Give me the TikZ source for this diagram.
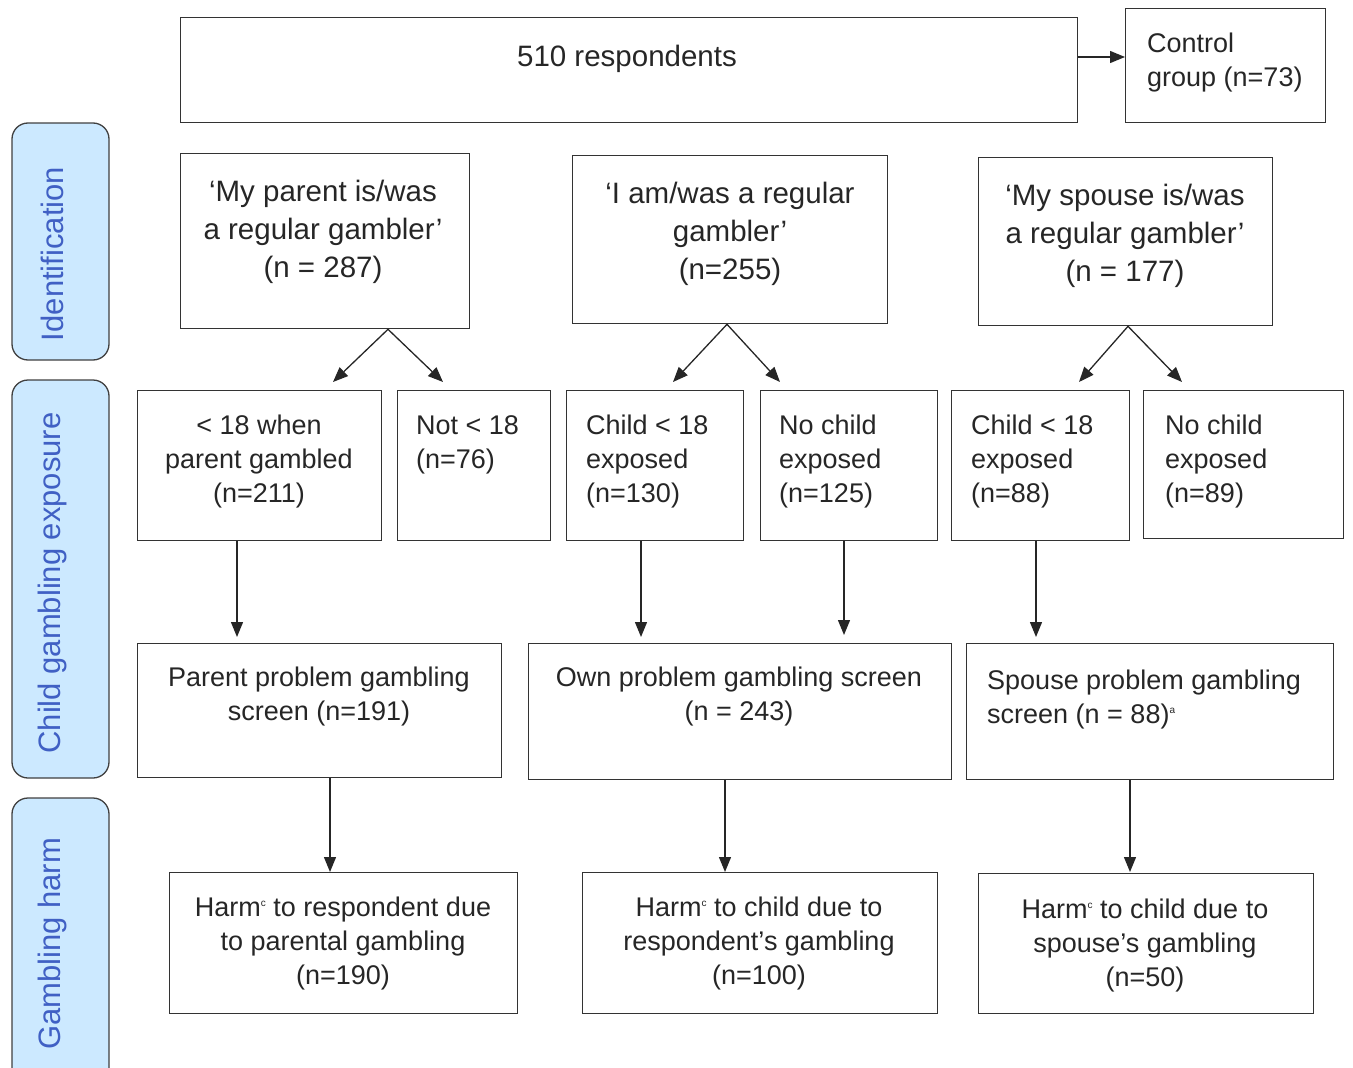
\documentclass[tikz,border=0pt]{standalone}
\usepackage{fontspec}
\setmainfont{Liberation Sans}
\usetikzlibrary{arrows.meta}
\definecolor{sidefill}{RGB}{204,233,255}
\definecolor{sideblue}{RGB}{64,96,196}
\newcommand{\supx}[1]{\raisebox{0.7ex}{\fontsize{10}{10}\selectfont #1}}
\tikzset{
 box/.style={draw=black!80, line width=1.3pt, anchor=north west, inner sep=0pt},
 txt/.style={font=\fontsize{27}{34}\selectfont, text=black!85, inner sep=0pt, align=center, anchor=north, yshift=-2pt},
 btxt/.style={txt, font=\fontsize{29.5}{38}\selectfont},
 ltxt/.style={txt, align=left, anchor=north west},
 side/.style={draw=black!75, fill=sidefill, rounded corners=16pt, line width=1.3pt},
 stxt/.style={font=\fontsize{31}{31}\selectfont, text=sideblue, rotate=90, inner sep=0pt},
 arr/.style={-{Stealth[length=15pt,width=12pt,inset=0pt]}, line width=1.3pt, draw=black!85}
}
\begin{document}
\begin{tikzpicture}[x=1pt,y=-1pt]
\useasboundingbox (0,0) rectangle (1353,1068);
% side labels
\begin{scope}
\clip (0,0) rectangle (1353,1068);
\draw[side] (12,123) rectangle (109,360);
\draw[side] (12,380) rectangle (109,778);
\draw[side] (12,798) rectangle (109,1100);
\end{scope}
\node[stxt] (sid) at (52,254) {Identification};
\node[stxt] (sexp) at (52,583) {Child gambling exposure};
\node[stxt] (sharm) at (52,944) {Gambling harm};
% top
\node[box, minimum width=897pt, minimum height=105pt] (top) at (180,17) {};
\node[btxt] (toptx) at (627,43) {510 respondents};
\node[box, minimum width=200pt, minimum height=114pt] (ctl) at (1125,8) {};
\node[ltxt] (ctltx) at (1147,31) {Control\\group (n=73)};
\coordinate (cA) at (1125,57);
\draw[arr] (top.east |- cA) -- (cA);
% row 2
\node[box, minimum width=289pt, minimum height=175pt] (par) at (180,153) {};
\node[btxt] (partx) at (323,178) {‘My parent is/was\\a regular gambler’\\(n = 287)};
\node[box, minimum width=315pt, minimum height=168pt] (own) at (572,155) {};
\node[btxt] (owntx) at (730,180) {‘I am/was a regular\\gambler’\\(n=255)};
\node[box, minimum width=294pt, minimum height=168pt] (sp) at (978,157) {};
\node[btxt] (sptx) at (1125,182) {‘My spouse is/was\\a regular gambler’\\(n = 177)};
% row 3
\node[box, minimum width=244pt, minimum height=150pt] (c1) at (137,390) {};
\node[txt] (c1tx) at (259,413) {< 18 when\\parent gambled\\(n=211)};
\node[box, minimum width=153pt, minimum height=150pt] (c2) at (397,390) {};
\node[ltxt] (c2tx) at (416,413) {Not < 18\\(n=76)};
\node[box, minimum width=177pt, minimum height=150pt] (c3) at (566,390) {};
\node[ltxt] (c3tx) at (586,413) {Child < 18\\exposed\\(n=130)};
\node[box, minimum width=177pt, minimum height=150pt] (c4) at (760,390) {};
\node[ltxt] (c4tx) at (779,413) {No child\\exposed\\(n=125)};
\node[box, minimum width=178pt, minimum height=150pt] (c5) at (951,390) {};
\node[ltxt] (c5tx) at (971,413) {Child < 18\\exposed\\(n=88)};
\node[box, minimum width=200pt, minimum height=148pt] (c6) at (1143,390) {};
\node[ltxt] (c6tx) at (1165,413) {No child\\exposed\\(n=89)};
% diverging arrows
\coordinate (d1) at (333,382); \coordinate (d2) at (443,382);
\coordinate (d3) at (673,382); \coordinate (d4) at (780,382);
\coordinate (d5) at (1079,382); \coordinate (d6) at (1182,382);
\draw[arr] (par.south -| 388,0) -- (d1);
\draw[arr] (par.south -| 388,0) -- (d2);
\draw[arr] (own.south -| 727,0) -- (d3);
\draw[arr] (own.south -| 727,0) -- (d4);
\draw[arr] (sp.south -| 1128,0) -- (d5);
\draw[arr] (sp.south -| 1128,0) -- (d6);
% row 4
\node[box, minimum width=364pt, minimum height=134pt] (s1) at (137,643) {};
\node[txt] (s1tx) at (319,665) {Parent problem gambling\\screen (n=191)};
\node[box, minimum width=423pt, minimum height=136pt] (s2) at (528,643) {};
\node[txt] (s2tx) at (739,665) {Own problem gambling screen\\(n = 243)};
\node[box, minimum width=367pt, minimum height=136pt] (s3) at (966,643) {};
\node[ltxt] (s3tx) at (987,668) {Spouse problem gambling\\screen (n = 88)\supx{a}};
\coordinate (e1) at (237,637); \coordinate (e2) at (641,637);
\coordinate (e3) at (844,635); \coordinate (e4) at (1036,637);
\draw[arr] (c1.south -| e1) -- (e1);
\draw[arr] (c3.south -| e2) -- (e2);
\draw[arr] (c4.south -| e3) -- (e3);
\draw[arr] (c5.south -| e4) -- (e4);
% row 5
\node[box, minimum width=348pt, minimum height=141pt] (h1) at (169,872) {};
\node[txt] (h1tx) at (343,895) {Harm\supx{c} to respondent due\\to parental gambling\\(n=190)};
\node[box, minimum width=355pt, minimum height=141pt] (h2) at (582,872) {};
\node[txt] (h2tx) at (759,895) {Harm\supx{c} to child due to\\respondent’s gambling\\(n=100)};
\node[box, minimum width=335pt, minimum height=140pt] (h3) at (978,873) {};
\node[txt] (h3tx) at (1145,897) {Harm\supx{c} to child due to\\spouse’s gambling\\(n=50)};
\coordinate (f1) at (330,872); \coordinate (f2) at (725,872); \coordinate (f3) at (1130,872);
\draw[arr] (s1.south -| f1) -- (f1);
\draw[arr] (s2.south -| f2) -- (f2);
\draw[arr] (s3.south -| f3) -- (f3);
\end{tikzpicture}
\end{document}
